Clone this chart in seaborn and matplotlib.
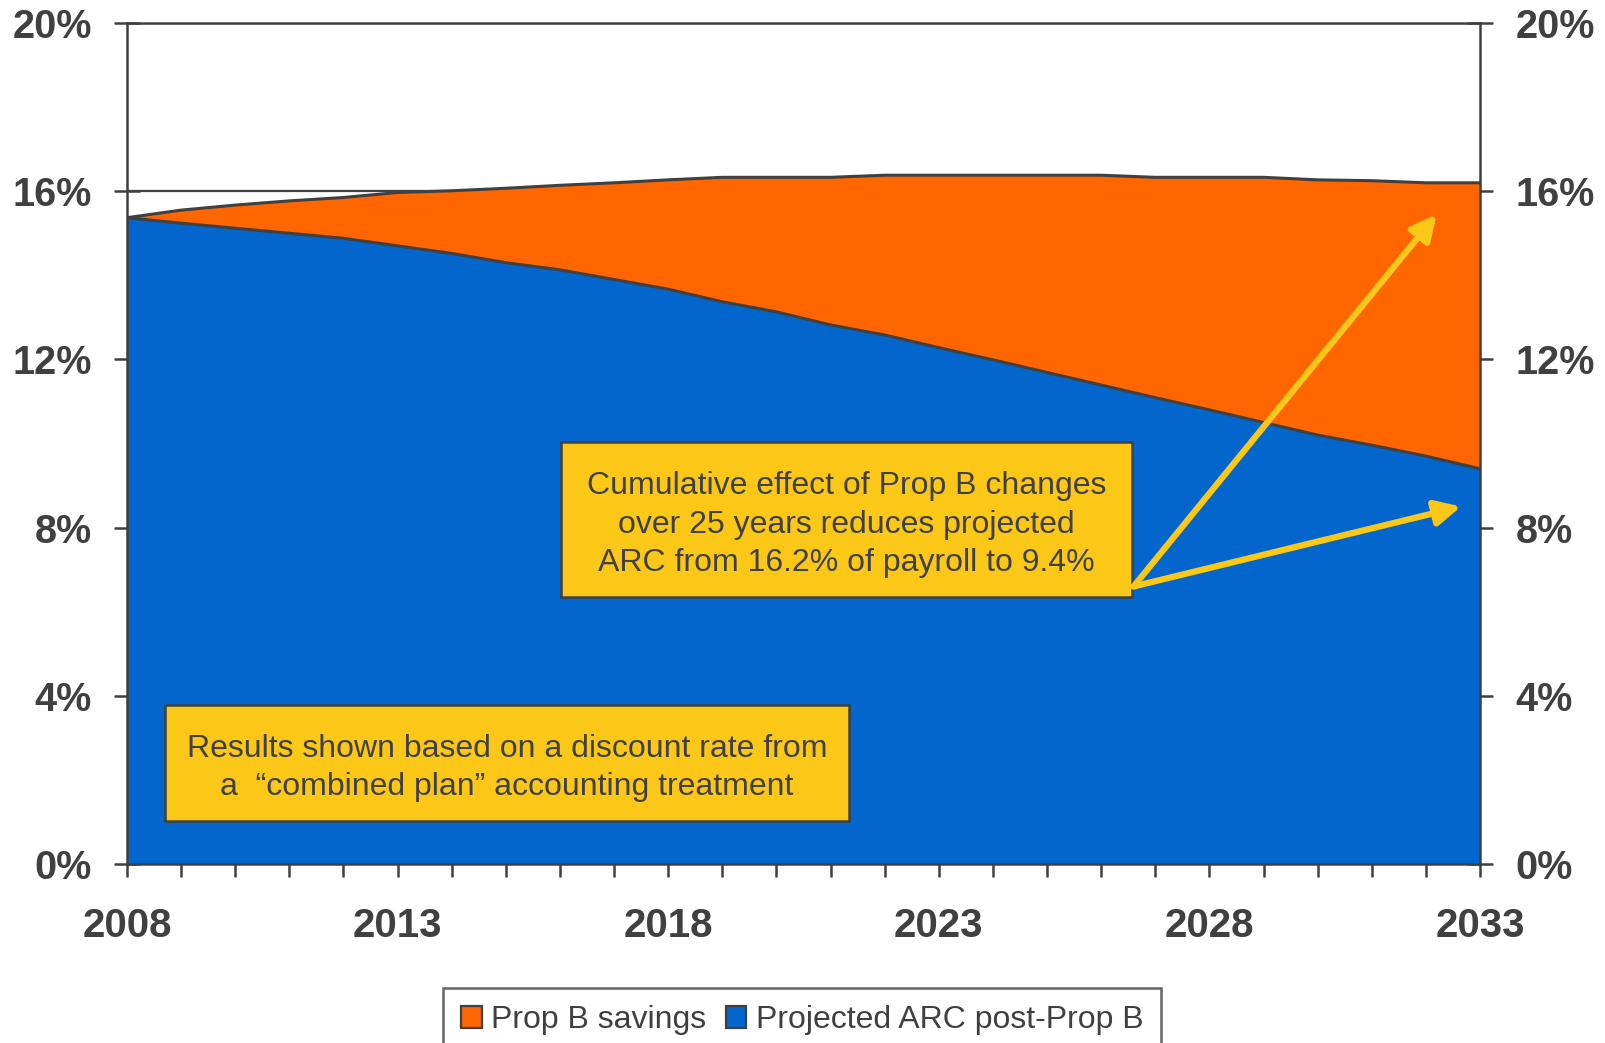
import numpy as np
import pandas as pd
import matplotlib
matplotlib.use("Agg")
import matplotlib.pyplot as plt
from matplotlib.patches import Rectangle, Patch
import seaborn as sns

# ARC as % of payroll, 2008-2033
years = list(range(2008, 2034))
arc_pre_prop_b = [15.37, 15.55, 15.67, 15.77, 15.85, 15.97, 16.01, 16.07, 16.14, 16.20,
                  16.27, 16.33, 16.33, 16.33, 16.38, 16.38, 16.38, 16.38, 16.38, 16.33,
                  16.33, 16.33, 16.27, 16.25, 16.20, 16.20]
arc_post_prop_b = [15.37, 15.24, 15.12, 15.00, 14.88, 14.70, 14.52, 14.30, 14.13, 13.90,
                   13.67, 13.37, 13.13, 12.82, 12.58, 12.28, 11.99, 11.69, 11.39, 11.09,
                   10.80, 10.50, 10.20, 9.96, 9.70, 9.40]
series_names = ["Prop B savings", "Projected ARC post-Prop B"]
y_ticks = [0, 4, 8, 12, 16, 20]
x_major = [2008, 2013, 2018, 2023, 2028, 2033]

note_effect = ("Cumulative effect of Prop B changes\n"
               "over 25 years reduces projected\n"
               "ARC from 16.2% of payroll to 9.4%")
note_rate = ("Results shown based on a discount rate from\n"
             "a  \u201ccombined plan\u201d accounting treatment")

df = pd.DataFrame({"year": years, "total": arc_pre_prop_b, "post": arc_post_prop_b})
df["savings"] = df["total"] - df["post"]

ORANGE = "#FF6600"
BLUE = "#0366CC"
YELLOW = "#FCC817"
DARK = "#404040"

sns.set_theme(style="white")
plt.rcParams["font.family"] = ["Liberation Sans", "DejaVu Sans"]

fig = plt.figure(figsize=(16.06, 10.43), dpi=100)
ax = fig.add_axes([127 / 1606, 1 - 864 / 1043, 1353 / 1606, 841 / 1043])

# stacked areas
ax.fill_between(df["year"], 0, df["post"], color=BLUE, lw=0, zorder=2)
ax.fill_between(df["year"], df["post"], df["post"] + df["savings"], color=ORANGE, lw=0, zorder=2)
sns.lineplot(x=df["year"], y=df["post"], ax=ax, color=DARK, lw=2.2, zorder=3)
sns.lineplot(x=df["year"], y=df["post"] + df["savings"], ax=ax, color=DARK, lw=2.2, zorder=3)

ax.set_xlim(2008, 2033)
ax.set_ylim(0, 20)
ax.set_xlabel("")
ax.set_ylabel("")

ax.set_yticks(y_ticks)
ax.set_yticklabels([f"{v}%" for v in y_ticks])
ax.set_xticks(x_major)
ax.set_xticks(years, minor=True)
ax.set_axisbelow(True)
ax.yaxis.grid(True, color=DARK, lw=1.6, zorder=0)
ax.xaxis.grid(False)

for s in ax.spines.values():
    s.set_color(DARK)
    s.set_linewidth(1.8)
    s.set_zorder(4)

ax.tick_params(axis="y", which="major", direction="inout", length=19, width=1.8,
               color=DARK, left=True, right=True, labelleft=True, labelright=True,
               pad=16, labelsize=28.5, labelcolor=DARK)
ax.tick_params(axis="x", which="both", direction="out", length=9, width=1.8,
               color=DARK, bottom=True)
ax.tick_params(axis="x", which="major", pad=22, labelsize=29, labelcolor=DARK)
for lab in ax.get_xticklabels() + ax.get_yticklabels():
    lab.set_fontweight("bold")

# note boxes
def note_box(x0, y0, x1, y1, text):
    ax.add_patch(Rectangle((x0, y0), x1 - x0, y1 - y0, transform=ax.transAxes,
                           facecolor=YELLOW, edgecolor=DARK, lw=1.8, zorder=6))
    ax.text((x0 + x1) / 2, (y0 + y1) / 2 - 0.006, text, transform=ax.transAxes,
            ha="center", va="center", fontsize=23, color=DARK,
            linespacing=1.36, zorder=7)

note_box(0.3208, 0.3175, 0.7428, 0.5018, note_effect)
note_box(0.0281, 0.0511, 0.5336, 0.1890, note_rate)

# arrows from the note to the two end values
start = (2026.6, 6.6)
for end in [(2032.2, 15.45), (2032.65, 8.5)]:
    ax.annotate("", xy=end, xytext=start, xycoords="data",
                arrowprops=dict(arrowstyle="-|>", color=YELLOW, lw=4.5,
                                mutation_scale=38, shrinkA=0, shrinkB=0),
                zorder=8)

handles = [Patch(facecolor=ORANGE, edgecolor=DARK, lw=1.6),
           Patch(facecolor=BLUE, edgecolor=DARK, lw=1.6)]
leg = fig.legend(handles, series_names, loc="upper center", bbox_to_anchor=(0.4995, 0.053),
                 ncol=2, frameon=True, fancybox=False, fontsize=23, borderaxespad=0,
                 handlelength=0.65, handleheight=0.65, handletextpad=0.3,
                 columnspacing=0.6, borderpad=0.55, labelcolor=DARK)
leg.get_frame().set_edgecolor(DARK)
leg.get_frame().set_linewidth(1.8)

fig.savefig("out.png", dpi=100)
